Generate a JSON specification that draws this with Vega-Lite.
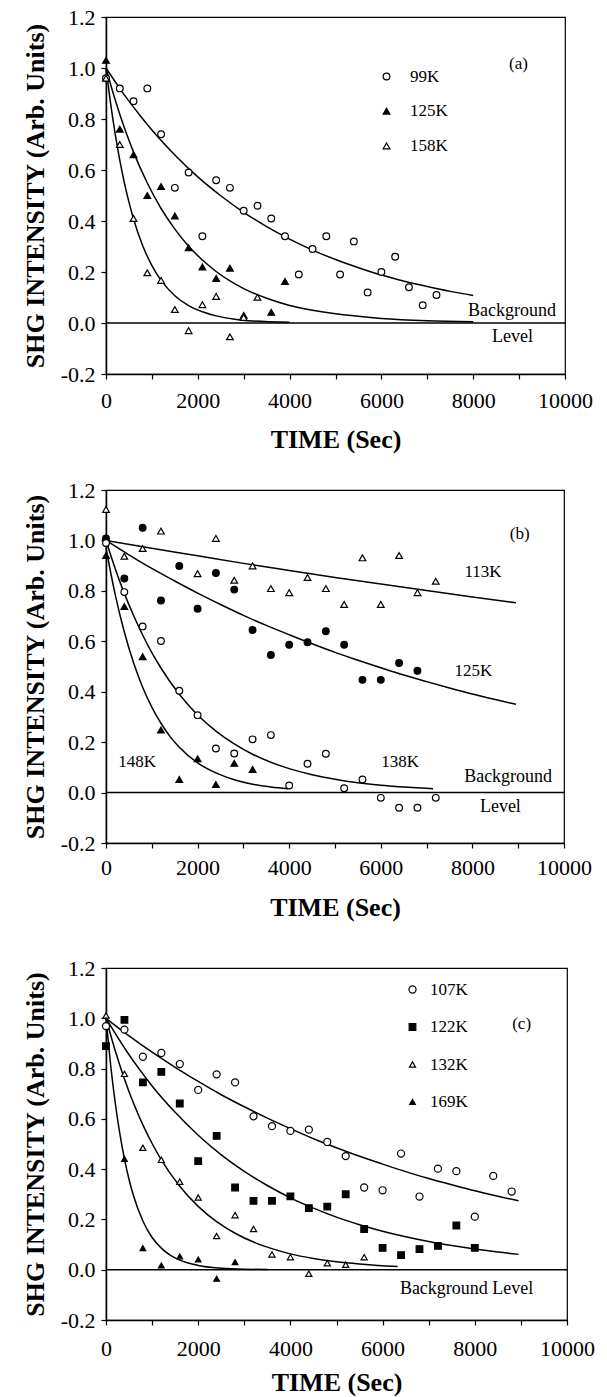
{
"$schema": "https://vega.github.io/schema/vega-lite/v6.json",
"padding": {"left": 21, "top": 5, "right": 0, "bottom": 0},
"background": "white",
"config": {
  "font": "Liberation Serif",
  "view": {"stroke": "black", "strokeWidth": 1.2},
  "axis": {"labelFont": "Liberation Serif", "labelFontSize": 22, "labelColor": "black", "titleFont": "Liberation Serif", "titleFontSize": 26, "titleFontWeight": "bold", "titleColor": "black", "domainColor": "black", "domainWidth": 1.5, "tickColor": "black", "tickWidth": 1.2, "tickSize": 5, "grid": false, "labelFlush": false, "labelOverlap": false},
  "legend": {"labelFont": "Liberation Serif", "labelFontSize": 17, "labelColor": "black", "symbolStrokeColor": "black", "symbolStrokeWidth": 1.2, "padding": 0, "symbolOpacity": 1},
  "text": {"font": "Liberation Serif", "fontSize": 17, "color": "black"}
},
"datasets": {
  "a_pts": [
    {"s":"99K","t":0,"v":0.96},{"s":"99K","t":300,"v":0.92},{"s":"99K","t":600,"v":0.87},{"s":"99K","t":900,"v":0.92},{"s":"99K","t":1200,"v":0.74},{"s":"99K","t":1500,"v":0.53},{"s":"99K","t":1800,"v":0.59},{"s":"99K","t":2100,"v":0.34},{"s":"99K","t":2400,"v":0.56},{"s":"99K","t":2700,"v":0.53},{"s":"99K","t":3000,"v":0.44},{"s":"99K","t":3300,"v":0.46},{"s":"99K","t":3600,"v":0.41},{"s":"99K","t":3900,"v":0.34},{"s":"99K","t":4200,"v":0.19},{"s":"99K","t":4500,"v":0.29},{"s":"99K","t":4800,"v":0.34},{"s":"99K","t":5100,"v":0.19},{"s":"99K","t":5400,"v":0.32},{"s":"99K","t":5700,"v":0.12},{"s":"99K","t":6000,"v":0.2},{"s":"99K","t":6300,"v":0.26},{"s":"99K","t":6600,"v":0.14},{"s":"99K","t":6900,"v":0.07},{"s":"99K","t":7200,"v":0.11},
    {"s":"125K","t":0,"v":1.03},{"s":"125K","t":300,"v":0.76},{"s":"125K","t":600,"v":0.66},{"s":"125K","t":900,"v":0.5},{"s":"125K","t":1200,"v":0.535},{"s":"125K","t":1500,"v":0.42},{"s":"125K","t":1800,"v":0.295},{"s":"125K","t":2100,"v":0.22},{"s":"125K","t":2400,"v":0.175},{"s":"125K","t":2700,"v":0.215},{"s":"125K","t":3000,"v":0.03},{"s":"125K","t":3600,"v":0.042},{"s":"125K","t":3900,"v":0.163},
    {"s":"158K","t":0,"v":0.96},{"s":"158K","t":300,"v":0.7},{"s":"158K","t":600,"v":0.41},{"s":"158K","t":900,"v":0.197},{"s":"158K","t":1200,"v":0.167},{"s":"158K","t":1500,"v":0.053},{"s":"158K","t":1800,"v":-0.03},{"s":"158K","t":2100,"v":0.072},{"s":"158K","t":2400,"v":0.104},{"s":"158K","t":2700,"v":-0.054},{"s":"158K","t":3000,"v":0.022},{"s":"158K","t":3300,"v":0.101}
  ],
  "a_fit": [
    {"s":"99K","t":0,"v":1},{"s":"99K","t":250,"v":0.933},{"s":"99K","t":500,"v":0.87},{"s":"99K","t":750,"v":0.812},{"s":"99K","t":1000,"v":0.757},{"s":"99K","t":1500,"v":0.659},{"s":"99K","t":2000,"v":0.573},{"s":"99K","t":2500,"v":0.499},{"s":"99K","t":3000,"v":0.434},{"s":"99K","t":3500,"v":0.378},{"s":"99K","t":4000,"v":0.329},{"s":"99K","t":4500,"v":0.286},{"s":"99K","t":5000,"v":0.249},{"s":"99K","t":5500,"v":0.217},{"s":"99K","t":6000,"v":0.188},{"s":"99K","t":6500,"v":0.164},{"s":"99K","t":7000,"v":0.143},{"s":"99K","t":7500,"v":0.124},{"s":"99K","t":8000,"v":0.108},
    {"s":"125K","t":0,"v":1},{"s":"125K","t":150,"v":0.905},{"s":"125K","t":300,"v":0.819},{"s":"125K","t":450,"v":0.741},{"s":"125K","t":600,"v":0.67},{"s":"125K","t":900,"v":0.549},{"s":"125K","t":1200,"v":0.449},{"s":"125K","t":1500,"v":0.368},{"s":"125K","t":1800,"v":0.301},{"s":"125K","t":2100,"v":0.247},{"s":"125K","t":2400,"v":0.202},{"s":"125K","t":2700,"v":0.165},{"s":"125K","t":3000,"v":0.135},{"s":"125K","t":3500,"v":0.097},{"s":"125K","t":4000,"v":0.069},{"s":"125K","t":4500,"v":0.05},{"s":"125K","t":5000,"v":0.036},{"s":"125K","t":5500,"v":0.026},{"s":"125K","t":6000,"v":0.018},{"s":"125K","t":7000,"v":0.009},{"s":"125K","t":8000,"v":0.005},
    {"s":"158K","t":0,"v":1},{"s":"158K","t":100,"v":0.861},{"s":"158K","t":200,"v":0.742},{"s":"158K","t":300,"v":0.639},{"s":"158K","t":400,"v":0.55},{"s":"158K","t":500,"v":0.474},{"s":"158K","t":600,"v":0.408},{"s":"158K","t":800,"v":0.303},{"s":"158K","t":1000,"v":0.225},{"s":"158K","t":1200,"v":0.167},{"s":"158K","t":1500,"v":0.107},{"s":"158K","t":1800,"v":0.068},{"s":"158K","t":2100,"v":0.044},{"s":"158K","t":2400,"v":0.028},{"s":"158K","t":2800,"v":0.015},{"s":"158K","t":3200,"v":0.008},{"s":"158K","t":4000,"v":0.003}
  ],
  "b_pts": [
    {"s":"113K","t":0,"v":1.123},{"s":"113K","t":400,"v":0.937},{"s":"113K","t":800,"v":0.968},{"s":"113K","t":1200,"v":1.037},{"s":"113K","t":2000,"v":0.868},{"s":"113K","t":2400,"v":1.008},{"s":"113K","t":2800,"v":0.842},{"s":"113K","t":3200,"v":0.899},{"s":"113K","t":3600,"v":0.809},{"s":"113K","t":4000,"v":0.793},{"s":"113K","t":4400,"v":0.853},{"s":"113K","t":4800,"v":0.809},{"s":"113K","t":5200,"v":0.746},{"s":"113K","t":5600,"v":0.931},{"s":"113K","t":6000,"v":0.746},{"s":"113K","t":6400,"v":0.94},{"s":"113K","t":6800,"v":0.793},{"s":"113K","t":7200,"v":0.838},
    {"s":"125K","t":0,"v":1.008},{"s":"125K","t":400,"v":0.849},{"s":"125K","t":800,"v":1.05},{"s":"125K","t":1200,"v":0.762},{"s":"125K","t":1600,"v":0.899},{"s":"125K","t":2000,"v":0.729},{"s":"125K","t":2400,"v":0.871},{"s":"125K","t":2800,"v":0.805},{"s":"125K","t":3200,"v":0.645},{"s":"125K","t":3600,"v":0.546},{"s":"125K","t":4000,"v":0.586},{"s":"125K","t":4400,"v":0.596},{"s":"125K","t":4800,"v":0.64},{"s":"125K","t":5200,"v":0.586},{"s":"125K","t":5600,"v":0.447},{"s":"125K","t":6000,"v":0.447},{"s":"125K","t":6400,"v":0.514},{"s":"125K","t":6800,"v":0.483},
    {"s":"138K","t":0,"v":0.99},{"s":"138K","t":400,"v":0.795},{"s":"138K","t":800,"v":0.659},{"s":"138K","t":1200,"v":0.601},{"s":"138K","t":1600,"v":0.404},{"s":"138K","t":2000,"v":0.307},{"s":"138K","t":2400,"v":0.175},{"s":"138K","t":2800,"v":0.155},{"s":"138K","t":3200,"v":0.211},{"s":"138K","t":3600,"v":0.228},{"s":"138K","t":4000,"v":0.028},{"s":"138K","t":4400,"v":0.114},{"s":"138K","t":4800,"v":0.154},{"s":"138K","t":5200,"v":0.017},{"s":"138K","t":5600,"v":0.052},{"s":"138K","t":6000,"v":-0.021},{"s":"138K","t":6400,"v":-0.06},{"s":"138K","t":6800,"v":-0.06},{"s":"138K","t":7200,"v":-0.021},
    {"s":"148K","t":0,"v":0.94},{"s":"148K","t":400,"v":0.738},{"s":"148K","t":800,"v":0.539},{"s":"148K","t":1200,"v":0.248},{"s":"148K","t":1600,"v":0.052},{"s":"148K","t":2000,"v":0.134},{"s":"148K","t":2400,"v":0.032},{"s":"148K","t":2800,"v":0.116},{"s":"148K","t":3200,"v":0.092}
  ],
  "b_fit": [
    {"s":"113K","t":0,"v":1},{"s":"113K","t":1000,"v":0.969},{"s":"113K","t":2000,"v":0.939},{"s":"113K","t":3000,"v":0.909},{"s":"113K","t":4000,"v":0.881},{"s":"113K","t":5000,"v":0.853},{"s":"113K","t":6000,"v":0.827},{"s":"113K","t":7000,"v":0.801},{"s":"113K","t":8000,"v":0.776},{"s":"113K","t":8950,"v":0.753},
    {"s":"125K","t":0,"v":1},{"s":"125K","t":500,"v":0.943},{"s":"125K","t":1000,"v":0.889},{"s":"125K","t":1500,"v":0.839},{"s":"125K","t":2000,"v":0.791},{"s":"125K","t":2500,"v":0.746},{"s":"125K","t":3000,"v":0.703},{"s":"125K","t":3500,"v":0.663},{"s":"125K","t":4000,"v":0.626},{"s":"125K","t":4500,"v":0.59},{"s":"125K","t":5000,"v":0.556},{"s":"125K","t":5500,"v":0.525},{"s":"125K","t":6000,"v":0.495},{"s":"125K","t":6500,"v":0.466},{"s":"125K","t":7000,"v":0.44},{"s":"125K","t":7500,"v":0.415},{"s":"125K","t":8000,"v":0.391},{"s":"125K","t":8500,"v":0.369},{"s":"125K","t":8950,"v":0.35},
    {"s":"138K","t":0,"v":1},{"s":"138K","t":200,"v":0.889},{"s":"138K","t":400,"v":0.79},{"s":"138K","t":600,"v":0.703},{"s":"138K","t":800,"v":0.625},{"s":"138K","t":1000,"v":0.555},{"s":"138K","t":1200,"v":0.494},{"s":"138K","t":1600,"v":0.39},{"s":"138K","t":2000,"v":0.308},{"s":"138K","t":2400,"v":0.244},{"s":"138K","t":2800,"v":0.193},{"s":"138K","t":3200,"v":0.152},{"s":"138K","t":3600,"v":0.12},{"s":"138K","t":4000,"v":0.095},{"s":"138K","t":4500,"v":0.071},{"s":"138K","t":5000,"v":0.053},{"s":"138K","t":5500,"v":0.039},{"s":"138K","t":6000,"v":0.029},{"s":"138K","t":6500,"v":0.022},{"s":"138K","t":7140,"v":0.015},
    {"s":"148K","t":0,"v":0.97},{"s":"148K","t":200,"v":0.786},{"s":"148K","t":400,"v":0.637},{"s":"148K","t":600,"v":0.516},{"s":"148K","t":800,"v":0.418},{"s":"148K","t":1000,"v":0.339},{"s":"148K","t":1200,"v":0.275},{"s":"148K","t":1400,"v":0.222},{"s":"148K","t":1600,"v":0.18},{"s":"148K","t":2000,"v":0.118},{"s":"148K","t":2400,"v":0.078},{"s":"148K","t":2800,"v":0.051},{"s":"148K","t":3200,"v":0.033},{"s":"148K","t":3600,"v":0.022},{"s":"148K","t":3980,"v":0.015}
  ],
  "c_pts": [
    {"s":"107K","t":0,"v":0.969},{"s":"107K","t":400,"v":0.955},{"s":"107K","t":800,"v":0.847},{"s":"107K","t":1200,"v":0.862},{"s":"107K","t":1600,"v":0.818},{"s":"107K","t":2000,"v":0.715},{"s":"107K","t":2400,"v":0.777},{"s":"107K","t":2800,"v":0.745},{"s":"107K","t":3200,"v":0.61},{"s":"107K","t":3600,"v":0.571},{"s":"107K","t":4000,"v":0.552},{"s":"107K","t":4400,"v":0.557},{"s":"107K","t":4800,"v":0.508},{"s":"107K","t":5200,"v":0.452},{"s":"107K","t":5600,"v":0.327},{"s":"107K","t":6000,"v":0.316},{"s":"107K","t":6400,"v":0.462},{"s":"107K","t":6800,"v":0.291},{"s":"107K","t":7200,"v":0.402},{"s":"107K","t":7600,"v":0.392},{"s":"107K","t":8000,"v":0.211},{"s":"107K","t":8400,"v":0.373},{"s":"107K","t":8800,"v":0.311},
    {"s":"122K","t":0,"v":0.889},{"s":"122K","t":400,"v":0.994},{"s":"122K","t":800,"v":0.745},{"s":"122K","t":1200,"v":0.787},{"s":"122K","t":1600,"v":0.661},{"s":"122K","t":2000,"v":0.432},{"s":"122K","t":2400,"v":0.532},{"s":"122K","t":2800,"v":0.327},{"s":"122K","t":3200,"v":0.274},{"s":"122K","t":3600,"v":0.274},{"s":"122K","t":4000,"v":0.292},{"s":"122K","t":4400,"v":0.245},{"s":"122K","t":4800,"v":0.251},{"s":"122K","t":5200,"v":0.3},{"s":"122K","t":5600,"v":0.162},{"s":"122K","t":6000,"v":0.087},{"s":"122K","t":6400,"v":0.058},{"s":"122K","t":6800,"v":0.082},{"s":"122K","t":7200,"v":0.095},{"s":"122K","t":7600,"v":0.176},{"s":"122K","t":8000,"v":0.087},
    {"s":"132K","t":0,"v":1.011},{"s":"132K","t":400,"v":0.779},{"s":"132K","t":800,"v":0.485},{"s":"132K","t":1200,"v":0.437},{"s":"132K","t":1600,"v":0.35},{"s":"132K","t":2000,"v":0.287},{"s":"132K","t":2400,"v":0.134},{"s":"132K","t":2800,"v":0.217},{"s":"132K","t":3200,"v":0.162},{"s":"132K","t":3600,"v":0.061},{"s":"132K","t":4000,"v":0.05},{"s":"132K","t":4400,"v":-0.016},{"s":"132K","t":4800,"v":0.026},{"s":"132K","t":5200,"v":0.02},{"s":"132K","t":5600,"v":0.05},
    {"s":"169K","t":400,"v":0.441},{"s":"169K","t":800,"v":0.086},{"s":"169K","t":1200,"v":0.017},{"s":"169K","t":1600,"v":0.053},{"s":"169K","t":2000,"v":0.041},{"s":"169K","t":2400,"v":-0.036},{"s":"169K","t":2800,"v":0.03}
  ],
  "c_fit": [
    {"s":"107K","t":0,"v":1},{"s":"107K","t":500,"v":0.93},{"s":"107K","t":1000,"v":0.865},{"s":"107K","t":1500,"v":0.805},{"s":"107K","t":2000,"v":0.749},{"s":"107K","t":2500,"v":0.696},{"s":"107K","t":3000,"v":0.648},{"s":"107K","t":3500,"v":0.603},{"s":"107K","t":4000,"v":0.561},{"s":"107K","t":4500,"v":0.521},{"s":"107K","t":5000,"v":0.485},{"s":"107K","t":5500,"v":0.451},{"s":"107K","t":6000,"v":0.42},{"s":"107K","t":6500,"v":0.39},{"s":"107K","t":7000,"v":0.363},{"s":"107K","t":7500,"v":0.338},{"s":"107K","t":8000,"v":0.314},{"s":"107K","t":8500,"v":0.292},{"s":"107K","t":8950,"v":0.274},
    {"s":"122K","t":0,"v":1},{"s":"122K","t":250,"v":0.925},{"s":"122K","t":500,"v":0.855},{"s":"122K","t":750,"v":0.791},{"s":"122K","t":1000,"v":0.731},{"s":"122K","t":1500,"v":0.626},{"s":"122K","t":2000,"v":0.535},{"s":"122K","t":2500,"v":0.457},{"s":"122K","t":3000,"v":0.391},{"s":"122K","t":3500,"v":0.335},{"s":"122K","t":4000,"v":0.286},{"s":"122K","t":4500,"v":0.245},{"s":"122K","t":5000,"v":0.209},{"s":"122K","t":5500,"v":0.179},{"s":"122K","t":6000,"v":0.153},{"s":"122K","t":6500,"v":0.131},{"s":"122K","t":7000,"v":0.112},{"s":"122K","t":7500,"v":0.096},{"s":"122K","t":8000,"v":0.082},{"s":"122K","t":8500,"v":0.07},{"s":"122K","t":8950,"v":0.061},
    {"s":"132K","t":0,"v":1},{"s":"132K","t":200,"v":0.871},{"s":"132K","t":400,"v":0.759},{"s":"132K","t":600,"v":0.661},{"s":"132K","t":800,"v":0.576},{"s":"132K","t":1000,"v":0.502},{"s":"132K","t":1200,"v":0.437},{"s":"132K","t":1600,"v":0.332},{"s":"132K","t":2000,"v":0.252},{"s":"132K","t":2400,"v":0.191},{"s":"132K","t":2800,"v":0.145},{"s":"132K","t":3200,"v":0.11},{"s":"132K","t":3600,"v":0.084},{"s":"132K","t":4000,"v":0.063},{"s":"132K","t":4500,"v":0.045},{"s":"132K","t":5000,"v":0.032},{"s":"132K","t":5500,"v":0.023},{"s":"132K","t":6000,"v":0.016},{"s":"132K","t":6325,"v":0.013},
    {"s":"169K","t":0,"v":1},{"s":"169K","t":100,"v":0.815},{"s":"169K","t":200,"v":0.664},{"s":"169K","t":300,"v":0.541},{"s":"169K","t":400,"v":0.441},{"s":"169K","t":500,"v":0.359},{"s":"169K","t":600,"v":0.292},{"s":"169K","t":800,"v":0.194},{"s":"169K","t":1000,"v":0.128},{"s":"169K","t":1200,"v":0.086},{"s":"169K","t":1400,"v":0.057},{"s":"169K","t":1600,"v":0.038},{"s":"169K","t":2000,"v":0.017},{"s":"169K","t":2500,"v":0.006},{"s":"169K","t":3000,"v":0.002},{"s":"169K","t":3500,"v":0.001}
  ]
},
"resolve": {"scale": {"shape": "independent", "fill": "independent", "size": "independent"}, "legend": {"shape": "independent", "fill": "independent", "size": "independent"}},
"columns": 1,
"spacing": 35,
"concat": [
{
"columns": 1,
"spacing": 25,
"resolve": {"scale": {"shape": "independent", "fill": "independent", "size": "independent"}, "legend": {"shape": "independent", "fill": "independent", "size": "independent"}},
"concat": [
{
  "width": 459, "height": 357,
  "layer": [
    {"data": {"name": "a_fit"}, "mark": {"type": "line", "color": "black", "strokeWidth": 1.5, "interpolate": "monotone"},
     "encoding": {
       "x": {"field": "t", "type": "quantitative", "scale": {"domain": [0, 10000], "nice": false}, "axis": {"title": "TIME (Sec)", "values": [0,1000,2000,3000,4000,5000,6000,7000,8000,9000,10000], "labelExpr": "datum.value % 2000 === 0 ? format(datum.value, 'd') : ''", "labelPadding": 11, "titlePadding": 15}},
       "y": {"field": "v", "type": "quantitative", "scale": {"domain": [-0.2, 1.2], "nice": false}, "axis": {"title": "SHG INTENSITY (Arb. Units)", "values": [-0.2,0,0.2,0.4,0.6,0.8,1,1.2], "labelExpr": "datum.value < 0 ? '-' + format(-datum.value, '.1f') : format(datum.value, '.1f')", "labelPadding": 6, "titlePadding": 12}},
       "detail": {"field": "s"}}},
    {"data": {"values": [{}]}, "mark": {"type": "rule", "color": "black", "strokeWidth": 1.5}, "encoding": {"y": {"datum": 0}}},
    {"data": {"name": "a_pts"}, "mark": {"type": "point", "stroke": "black", "strokeWidth": 1.2, "opacity": 1, "size": 45},
     "encoding": {
       "x": {"field": "t", "type": "quantitative"},
       "y": {"field": "v", "type": "quantitative"},
       "shape": {"field": "s", "type": "nominal", "scale": {"domain": ["99K","125K","158K"], "range": ["circle","triangle-up","triangle-up"]}, "legend": {"orient": "none", "legendX": 272, "legendY": 51, "title": null, "rowPadding": 16.7, "labelOffset": 15, "symbolSize": 45, "encode": {"symbols": {"update": {"stroke": {"value": "black"}, "strokeWidth": {"value": 1.2}}}}}},
       "fill": {"field": "s", "type": "nominal", "scale": {"domain": ["99K","125K","158K"], "range": ["white","black","white"]}, "legend": {"orient": "none", "legendX": 272, "legendY": 51, "title": null, "rowPadding": 16.7, "labelOffset": 15, "symbolSize": 45, "encode": {"symbols": {"update": {"stroke": {"value": "black"}, "strokeWidth": {"value": 1.2}}}}}}}},
    {"data": {"values": [{}]}, "mark": {"type": "text", "align": "center", "baseline": "middle"}, "encoding": {"x": {"datum": 8985}, "y": {"datum": 1.016}, "text": {"value": "(a)"}}},
    {"data": {"values": [{}]}, "mark": {"type": "text", "align": "left", "baseline": "middle", "fontSize": 18}, "encoding": {"x": {"datum": 7885}, "y": {"datum": 0.049}, "text": {"value": "Background"}}},
    {"data": {"values": [{}]}, "mark": {"type": "text", "align": "left", "baseline": "middle", "fontSize": 18}, "encoding": {"x": {"datum": 8410}, "y": {"datum": -0.054}, "text": {"value": "Level"}}}
  ]
},
{
  "width": 458, "height": 353,
  "layer": [
    {"data": {"name": "b_fit"}, "mark": {"type": "line", "color": "black", "strokeWidth": 1.5, "interpolate": "monotone"},
     "encoding": {
       "x": {"field": "t", "type": "quantitative", "scale": {"domain": [0, 10000], "nice": false}, "axis": {"title": "TIME (Sec)", "values": [0,1000,2000,3000,4000,5000,6000,7000,8000,9000,10000], "labelExpr": "datum.value % 2000 === 0 ? format(datum.value, 'd') : ''", "labelPadding": 9, "titlePadding": 16}},
       "y": {"field": "v", "type": "quantitative", "scale": {"domain": [-0.2, 1.2], "nice": false}, "axis": {"title": "SHG INTENSITY (Arb. Units)", "values": [-0.2,0,0.2,0.4,0.6,0.8,1,1.2], "labelExpr": "datum.value < 0 ? '-' + format(-datum.value, '.1f') : format(datum.value, '.1f')", "labelPadding": 6, "titlePadding": 12}},
       "detail": {"field": "s"}}},
    {"data": {"values": [{}]}, "mark": {"type": "rule", "color": "black", "strokeWidth": 1.5}, "encoding": {"y": {"datum": 0}}},
    {"data": {"name": "b_pts"}, "mark": {"type": "point", "stroke": "black", "strokeWidth": 1.2, "opacity": 1, "size": 45},
     "encoding": {
       "x": {"field": "t", "type": "quantitative"},
       "y": {"field": "v", "type": "quantitative"},
       "shape": {"field": "s", "type": "nominal", "scale": {"domain": ["113K","125K","138K","148K"], "range": ["triangle-up","circle","circle","triangle-up"]}, "legend": null},
       "fill": {"field": "s", "type": "nominal", "scale": {"domain": ["113K","125K","138K","148K"], "range": ["white","black","white","black"]}, "legend": null}}},
    {"data": {"values": [{}]}, "mark": {"type": "text", "align": "center", "baseline": "middle"}, "encoding": {"x": {"datum": 9032}, "y": {"datum": 1.024}, "text": {"value": "(b)"}}},
    {"data": {"values": [{}]}, "mark": {"type": "text", "align": "center", "baseline": "middle"}, "encoding": {"x": {"datum": 8232}, "y": {"datum": 0.875}, "text": {"value": "113K"}}},
    {"data": {"values": [{}]}, "mark": {"type": "text", "align": "center", "baseline": "middle"}, "encoding": {"x": {"datum": 8022}, "y": {"datum": 0.482}, "text": {"value": "125K"}}},
    {"data": {"values": [{}]}, "mark": {"type": "text", "align": "center", "baseline": "middle"}, "encoding": {"x": {"datum": 6423}, "y": {"datum": 0.122}, "text": {"value": "138K"}}},
    {"data": {"values": [{}]}, "mark": {"type": "text", "align": "center", "baseline": "middle"}, "encoding": {"x": {"datum": 682}, "y": {"datum": 0.122}, "text": {"value": "148K"}}},
    {"data": {"values": [{}]}, "mark": {"type": "text", "align": "center", "baseline": "middle", "fontSize": 18}, "encoding": {"x": {"datum": 8780}, "y": {"datum": 0.061}, "text": {"value": "Background"}}},
    {"data": {"values": [{}]}, "mark": {"type": "text", "align": "center", "baseline": "middle", "fontSize": 18}, "encoding": {"x": {"datum": 8611}, "y": {"datum": -0.057}, "text": {"value": "Level"}}}
  ]
}
]
},
{
  "width": 461, "height": 352,
  "layer": [
    {"data": {"name": "c_fit"}, "mark": {"type": "line", "color": "black", "strokeWidth": 1.5, "interpolate": "monotone"},
     "encoding": {
       "x": {"field": "t", "type": "quantitative", "scale": {"domain": [0, 10000], "nice": false}, "axis": {"title": "TIME (Sec)", "values": [0,1000,2000,3000,4000,5000,6000,7000,8000,9000,10000], "labelExpr": "datum.value % 2000 === 0 ? format(datum.value, 'd') : ''", "labelPadding": 13, "titlePadding": 10}},
       "y": {"field": "v", "type": "quantitative", "scale": {"domain": [-0.2, 1.2], "nice": false}, "axis": {"title": "SHG INTENSITY (Arb. Units)", "values": [-0.2,0,0.2,0.4,0.6,0.8,1,1.2], "labelExpr": "datum.value < 0 ? '-' + format(-datum.value, '.1f') : format(datum.value, '.1f')", "labelPadding": 6, "titlePadding": 12}},
       "detail": {"field": "s"}}},
    {"data": {"values": [{}]}, "mark": {"type": "rule", "color": "black", "strokeWidth": 1.5}, "encoding": {"y": {"datum": 0}}},
    {"data": {"name": "c_pts"}, "mark": {"type": "point", "stroke": "black", "strokeWidth": 1.2, "opacity": 1},
     "encoding": {
       "x": {"field": "t", "type": "quantitative"},
       "y": {"field": "v", "type": "quantitative"},
       "shape": {"field": "s", "type": "nominal", "scale": {"domain": ["107K","122K","132K","169K"], "range": ["circle","square","triangle-up","triangle-up"]}, "legend": {"orient": "none", "legendX": 298, "legendY": 13, "title": null, "rowPadding": 19.5, "labelOffset": 9, "encode": {"symbols": {"update": {"stroke": {"value": "black"}, "strokeWidth": {"value": 1.2}}}}}},
       "fill": {"field": "s", "type": "nominal", "scale": {"domain": ["107K","122K","132K","169K"], "range": ["white","black","white","black"]}, "legend": {"orient": "none", "legendX": 298, "legendY": 13, "title": null, "rowPadding": 19.5, "labelOffset": 9, "encode": {"symbols": {"update": {"stroke": {"value": "black"}, "strokeWidth": {"value": 1.2}}}}}},
       "size": {"field": "s", "type": "nominal", "scale": {"domain": ["107K","122K","132K","169K"], "range": [50, 32, 50, 22]}, "legend": {"orient": "none", "legendX": 298, "legendY": 13, "title": null, "rowPadding": 19.5, "labelOffset": 9, "encode": {"symbols": {"update": {"stroke": {"value": "black"}, "strokeWidth": {"value": 1.2}}}}}}}},
    {"data": {"values": [{}]}, "mark": {"type": "text", "align": "center", "baseline": "middle"}, "encoding": {"x": {"datum": 9016}, "y": {"datum": 0.976}, "text": {"value": "(c)"}}},
    {"data": {"values": [{}]}, "mark": {"type": "text", "align": "center", "baseline": "middle", "fontSize": 18}, "encoding": {"x": {"datum": 7822}, "y": {"datum": -0.075}, "text": {"value": "Background Level"}}}
  ]
}
]
}
